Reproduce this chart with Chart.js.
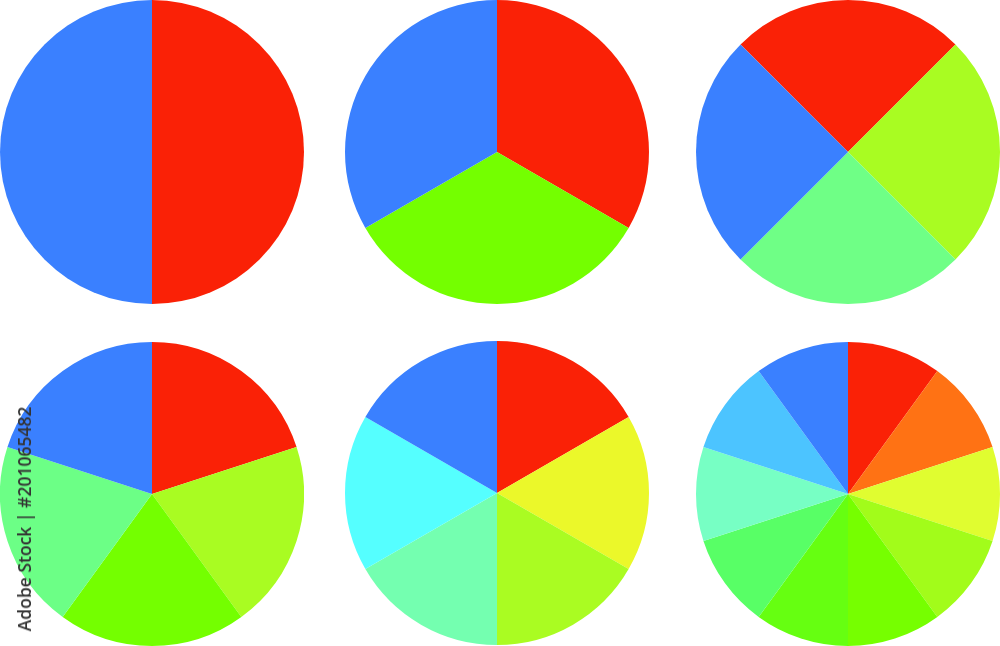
<!DOCTYPE html>
<html>
<head>
<meta charset="utf-8">
<script src="https://cdn.jsdelivr.net/npm/chart.js@4"></script>
<style>
  html, body { margin: 0; padding: 0; background: #fff; }
  #wrap { position: relative; width: 1000px; height: 646px; overflow: hidden; }
  #wrap canvas { position: absolute; }
  #stamp {
    position: absolute; left: 24px; top: 519px;
    transform: translate(-50%, -50%) rotate(-90deg);
    white-space: nowrap; font-family: "Open Sans", "DejaVu Sans", sans-serif;
    font-size: 17.5px; font-weight: 600; color: #333; z-index: 5;
  }
</style>
</head>
<body>
<div id="wrap">
  <canvas id="pie2" width="304" height="304" style="left:0px;top:0px"></canvas>
  <canvas id="pie3" width="304" height="304" style="left:345px;top:0px"></canvas>
  <canvas id="pie4" width="304" height="304" style="left:696px;top:0px"></canvas>
  <canvas id="pie5" width="304" height="304" style="left:0px;top:342px"></canvas>
  <canvas id="pie6" width="304" height="304" style="left:345px;top:341px"></canvas>
  <canvas id="pie10" width="304" height="304" style="left:696px;top:342px"></canvas>
  <div id="stamp">Adobe Stock | #201065482</div>
</div>
<script>
// every pie is cut into equal parts
const parts2 = [1, 1];
const parts3 = [1, 1, 1];
const parts4 = [1, 1, 1, 1];
const parts5 = [1, 1, 1, 1, 1];
const parts6 = [1, 1, 1, 1, 1, 1];
const parts10 = [1, 1, 1, 1, 1, 1, 1, 1, 1, 1];

// slice colours, clockwise from the top
const colors2 = ['#fa2106', '#3a80ff'];
const colors3 = ['#fa2106', '#74ff00', '#3a80ff'];
const colors4 = ['#fa2106', '#a9fc22', '#6fff86', '#3a80ff'];
const colors5 = ['#fa2106', '#a9fc22', '#74ff00', '#6cff86', '#3a80ff'];
const colors6 = ['#fa2106', '#ebf82a', '#aafc22', '#74ffb0', '#55ffff', '#3a80ff'];
const colors10 = ['#fa2106', '#ff7214', '#e0fd30', '#a2fc1a', '#76ff00',
                  '#66ff11', '#58ff66', '#77ffc4', '#4cc4ff', '#3a80ff'];

function drawPie(id, values, colors, rotation) {
    const ctx = document.getElementById(id);
    new Chart(ctx, {
        type: 'pie',
        data: {
            labels: values.map((v, i) => 'Part ' + (i + 1)),
            datasets: [{
                data: values,
                backgroundColor: colors,
                borderWidth: 0
            }]
        },
        options: {
            responsive: false,
            animation: false,
            rotation: rotation,
            layout: {padding: 0},
            plugins: {legend: {display: false}, tooltip: {enabled: false}}
        }
    });
}

drawPie('pie2', parts2, colors2, 0);
drawPie('pie3', parts3, colors3, 0);
drawPie('pie4', parts4, colors4, -45);
drawPie('pie5', parts5, colors5, 0);
drawPie('pie6', parts6, colors6, 0);
drawPie('pie10', parts10, colors10, 0);
</script>
</body>
</html>
